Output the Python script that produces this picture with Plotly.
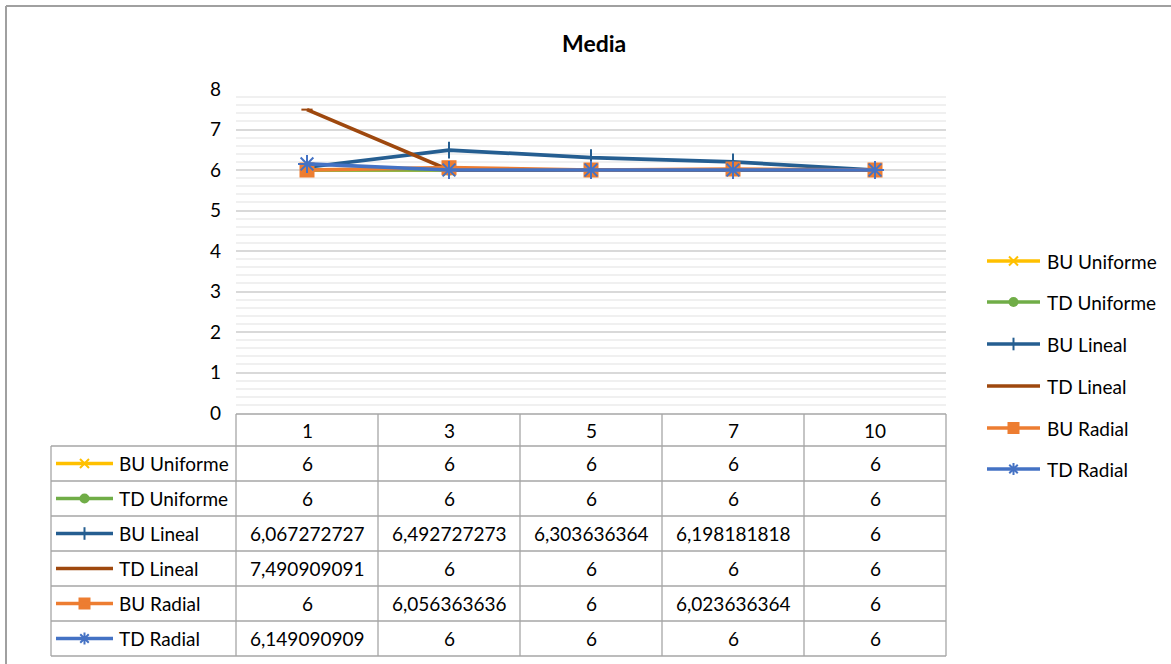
import plotly.graph_objects as go

W, H = 1171, 664

# ---- data -------------------------------------------------------------
categories = ["1", "3", "5", "7", "10"]
series_names = ["BU Uniforme", "TD Uniforme", "BU Lineal", "TD Lineal", "BU Radial", "TD Radial"]
bu_uniforme = [6, 6, 6, 6, 6]
td_uniforme = [6, 6, 6, 6, 6]
bu_lineal = [6.067272727, 6.492727273, 6.303636364, 6.198181818, 6]
td_lineal = [7.490909091, 6, 6, 6, 6]
bu_radial = [6, 6.056363636, 6, 6.023636364, 6]
td_radial = [6.149090909, 6, 6, 6, 6]
y_ticks = [0, 1, 2, 3, 4, 5, 6, 7, 8]

series_values = [bu_uniforme, td_uniforme, bu_lineal, td_lineal, bu_radial, td_radial]

# ---- styles -----------------------------------------------------------
colors = ["#FFC000", "#70AD47", "#255E91", "#9E480E", "#ED7D31", "#4472C4"]
symbols = ["x-thin", "circle", "line-ns", "line-ew", "square", "asterisk"]
msizes = [11, 11, 12, 8, 15, 15]        # markers on the plot
key_sizes = [9, 10, 9, 6, 12, 10]       # markers in the legend keys
FONT = "Lato"
GRID_C = "#A6A6A6"

# plot area in pixels
PX0, PX1 = 236, 946
PY_TOP, PY_BOT = 89, 413

fig = go.Figure()


def marker_style(i, size):
    sym = symbols[i]
    if sym in ("x-thin", "line-ns", "line-ew", "asterisk"):
        return dict(symbol=sym, size=size, color=colors[i],
                    line=dict(color=colors[i], width=2))
    return dict(symbol=sym, size=size, color=colors[i], line=dict(width=0))


for i, (name, vals) in enumerate(zip(series_names, series_values)):
    fig.add_trace(go.Scatter(
        x=categories, y=vals, mode="lines+markers", name=name,
        line=dict(color=colors[i], width=3.7),
        marker=marker_style(i, msizes[i]), showlegend=False,
        xaxis="x", yaxis="y"))

# ---- overlay axis in pixel units for table and legend ----------------
shapes = []
annotations = []


def hline(x0, x1, y, color=GRID_C, width=1.3):
    shapes.append(dict(type="line", xref="x2", yref="y2", x0=x0, x1=x1, y0=y, y1=y,
                       line=dict(color=color, width=width), layer="above"))


def vline(x, y0, y1, color=GRID_C, width=1.3):
    shapes.append(dict(type="line", xref="x2", yref="y2", x0=x, x1=x, y0=y0, y1=y1,
                       line=dict(color=color, width=width), layer="above"))


def text(x, y, s, size=19, xanchor="center", bold=False, color="#000000"):
    annotations.append(dict(xref="x2", yref="y2", x=x, y=y, text=f"<b>{s}</b>" if bold else s,
                            showarrow=False, xanchor=xanchor, yanchor="middle",
                            font=dict(family=FONT, size=size, color=color)))


def legend_key(i, x0, x1, y):
    shapes.append(dict(type="line", xref="x2", yref="y2", x0=x0, x1=x1, y0=y, y1=y,
                       line=dict(color=colors[i], width=3.7), layer="above"))
    fig.add_trace(go.Scatter(x=[(x0 + x1) / 2], y=[y], mode="markers",
                             marker=marker_style(i, key_sizes[i]), showlegend=False,
                             hoverinfo="skip", xaxis="x2", yaxis="y2"))


# chart border
hline(6, W + 10, 6, color="#A0A0A0", width=2)
vline(6, 6, H + 10, color="#A0A0A0", width=2)

# title
text((PX0 + PX1) / 2 + 3, 43, "Media", size=23, bold=True)

# data table
col_w = (PX1 - PX0) / len(categories)
head_top, head_bot = 414, 446
row_h = 35
left = 51
rows_bot = head_bot + row_h * len(series_names)

hline(PX0, PX1, head_top)
for r in range(len(series_names) + 1):
    hline(left, PX1, head_bot + r * row_h)
for c in range(len(categories) + 1):
    vline(PX0 + c * col_w, head_top, rows_bot)
vline(left, head_bot, rows_bot)

for c, cat in enumerate(categories):
    text(PX0 + (c + 0.5) * col_w, (head_top + head_bot) / 2, cat)


def fmt(v):
    if float(v) == int(v):
        return str(int(v))
    return str(v).replace(".", ",")


for r, (name, vals) in enumerate(zip(series_names, series_values)):
    yc = head_bot + (r + 0.5) * row_h
    legend_key(r, 56, 113, yc)
    text(117, yc, name, xanchor="left")
    for c, v in enumerate(vals):
        text(PX0 + (c + 0.5) * col_w, yc, fmt(v))

# side legend
leg_y = [261, 302, 344, 386, 428, 469]
for i, name in enumerate(series_names):
    legend_key(i, 987, 1040, leg_y[i])
    text(1045, leg_y[i], name, xanchor="left")

fig.update_layout(
    template="none",
    width=W, height=H,
    margin=dict(l=0, r=0, t=0, b=0, pad=0, autoexpand=False),
    paper_bgcolor="#FFFFFF", plot_bgcolor="rgba(0,0,0,0)",
    showlegend=False,
    xaxis=dict(domain=[PX0 / W, PX1 / W], type="category", range=[-0.5, 4.5],
               showgrid=False, showticklabels=False, showline=False, zeroline=False,
               ticks="", fixedrange=True, automargin=False),
    yaxis=dict(domain=[1 - PY_BOT / H, 1 - PY_TOP / H], range=[0, 8],
               tickvals=y_ticks, ticktext=[str(t) for t in y_ticks],
               showgrid=True, gridcolor="#D9D9D9", gridwidth=2,
               minor=dict(dtick=0.2, showgrid=True, gridcolor="#F0F0F0", gridwidth=2),
               showline=False, zeroline=False, ticks="", ticklabelstandoff=14,
               tickfont=dict(family=FONT, size=19, color="#000000"), fixedrange=True,
               automargin=False),
    xaxis2=dict(domain=[0, 1], range=[0, W], visible=False, anchor="y2",
                fixedrange=True, automargin=False),
    yaxis2=dict(domain=[0, 1], range=[H, 0], visible=False, anchor="x2",
                fixedrange=True, automargin=False),
    shapes=shapes,
    annotations=annotations,
)

fig.write_html("out.html")
